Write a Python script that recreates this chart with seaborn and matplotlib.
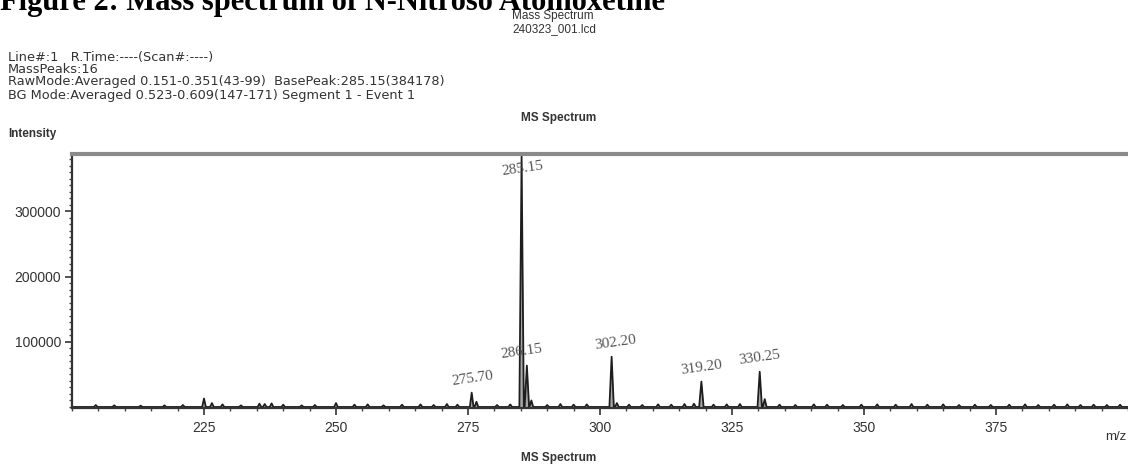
import numpy as np
import pandas as pd
import matplotlib
matplotlib.use("Agg")
import matplotlib.pyplot as plt
from matplotlib.ticker import MultipleLocator, FixedLocator
import seaborn as sns

# ---------------- data ----------------
peak_mz = [275.70, 285.15, 286.15, 302.20, 319.20, 330.25]
peak_int = [22000, 384178, 63500, 77000, 39000, 54000]
peak_labels = ["275.70", "285.15", "286.15", "302.20", "319.20", "330.25"]

minor_mz = [204.5, 208.0, 213.0, 217.5, 221.0, 225.0, 226.5, 228.5, 232.0, 235.5,
            236.5, 237.8, 240.0, 243.5, 246.0, 250.0, 253.5, 256.0, 259.0, 262.5,
            266.0, 268.5, 271.0, 273.0, 276.6, 280.5, 283.0, 287.0, 290.0, 292.5,
            295.0, 297.5, 303.2, 305.5, 308.0, 311.0, 313.5, 316.0, 317.8, 321.5,
            324.0, 326.5, 331.2, 334.0, 337.0, 340.5, 343.0, 346.0, 349.5, 352.5,
            356.0, 359.0, 362.0, 365.0, 368.0, 371.0, 374.0, 377.5, 380.5, 383.0,
            386.0, 388.5, 391.0, 393.5, 396.0, 398.5]
minor_int = [3000, 2500, 2000, 2500, 3000, 13000, 6000, 4000, 2500, 5000,
             4500, 5500, 3500, 2500, 3000, 6000, 3500, 4000, 2500, 3500,
             4000, 3000, 4500, 3500, 8000, 3000, 4000, 10000, 3000, 4500,
             3500, 4000, 6000, 3500, 3000, 4000, 3500, 4500, 5000, 3500,
             4000, 4500, 12000, 3500, 3000, 4000, 3500, 3000, 3500, 4000,
             3500, 4500, 3500, 4000, 3000, 3500, 3000, 3500, 4000, 3000,
             3500, 4000, 3000, 3500, 3000, 3500]

x_ticks = [225, 250, 275, 300, 325, 350, 375]
y_ticks = [100000, 200000, 300000]

# ---------------- profile built from the listed peaks ----------------
all_mz = peak_mz + minor_mz
all_int = peak_int + minor_int
order = np.argsort(all_mz)
prof_x, prof_y = [200.0], [0.0]
for i in order:
    m, h = all_mz[i], all_int[i]
    w = 0.42 if h > 30000 else 0.35
    prof_x += [m - w, m, m + w]
    prof_y += [0.0, h, 0.0]
prof_x.append(400.0)
prof_y.append(0.0)
df = pd.DataFrame({"mz": prof_x, "intensity": prof_y})

# ---------------- figure ----------------
sns.set_theme(style="white")
plt.rcParams["font.family"] = ["Liberation Sans", "DejaVu Sans"]

W, H = 1128, 465
fig = plt.figure(figsize=(W / 100, H / 100), dpi=100)
ax = fig.add_axes([72 / W, 1 - 407.5 / H, (W - 72) / W, (407.5 - 154) / H])

ax.fill_between(df["mz"], df["intensity"], 0, color="#a8a8a8", lw=0)
sns.lineplot(data=df, x="mz", y="intensity", sort=False, estimator=None,
             color="#1e1e1e", lw=1.3, ax=ax)

ax.set_xlim(200, 400)
ax.set_ylim(-800, 388000)
ax.set_xlabel("")
ax.set_ylabel("")

ax.xaxis.set_major_locator(FixedLocator(x_ticks))
ax.xaxis.set_minor_locator(MultipleLocator(5))
ax.yaxis.set_major_locator(FixedLocator(y_ticks))
ax.yaxis.set_minor_locator(MultipleLocator(10000))
ax.set_xticklabels([str(t) for t in x_ticks])
ax.set_yticklabels([str(t) for t in y_ticks])
ax.tick_params(axis="both", which="major", direction="out", length=5, width=1.2,
               color="#333333", labelsize=10, labelcolor="#333333", pad=3,
               bottom=True, left=True)
ax.tick_params(axis="both", which="minor", direction="out", length=2.5, width=1,
               color="#444444", bottom=True, left=True)
ax.tick_params(axis="x", which="major", pad=5)

for s in ["left", "bottom"]:
    ax.spines[s].set_color("#333333")
    ax.spines[s].set_linewidth(1.6)
ax.spines["top"].set_color("#8a8a8a")
ax.spines["top"].set_linewidth(3)
ax.spines["right"].set_visible(False)

# peak labels (offsets in points, relative to each peak top)
label_dx = [1, 1, -4, 3, 0, 0]
for m, h, lab, dx in zip(peak_mz, peak_int, peak_labels, label_dx):
    dy = -9 if h > 300000 else 10
    ax.annotate(lab, xy=(m, h), xytext=(dx, dy), textcoords="offset points",
                ha="center", va="center", rotation=8, fontsize=11,
                family=["Liberation Serif", "DejaVu Serif"], color="#555555")

# ---------------- header texts ----------------
def ft(x, y, s, **kw):
    fig.text(x / W, 1 - y / H, s, **kw)

ft(0, 10, "Figure 2: Mass spectrum of N-Nitroso Atomoxetine", fontsize=22,
   fontweight="bold", family=["Liberation Serif", "DejaVu Serif"],
   va="baseline", ha="left", color="black")
rk = dict(fontsize=8.5, color="#333333", va="center", ha="left")
ft(512, 16, "Mass Spectrum", **rk)
ft(512, 29, "240323_001.lcd", **rk)
hk = dict(fontsize=9.3, color="#333333", va="center", ha="left",
          family=["DejaVu Sans"])
ft(8, 57, "Line#:1   R.Time:----(Scan#:----)", **hk)
ft(8, 69, "MassPeaks:16", **hk)
ft(8, 82, "RawMode:Averaged 0.151-0.351(43-99)  BasePeak:285.15(384178)", **hk)
ft(8, 95, "BG Mode:Averaged 0.523-0.609(147-171) Segment 1 - Event 1", **hk)
ft(521, 118, "MS Spectrum", fontsize=8.5, fontweight="bold", color="#333333",
   va="center", ha="left")
ft(8, 134, "Intensity", fontsize=8.5, fontweight="bold", color="#333333",
   va="center", ha="left")
ft(521, 458, "MS Spectrum", fontsize=8.5, fontweight="bold", color="#333333",
   va="center", ha="left")
ft(1105, 437, "m/z", fontsize=9.5, color="#333333", va="center", ha="left")

fig.savefig("out.png", dpi=100)
